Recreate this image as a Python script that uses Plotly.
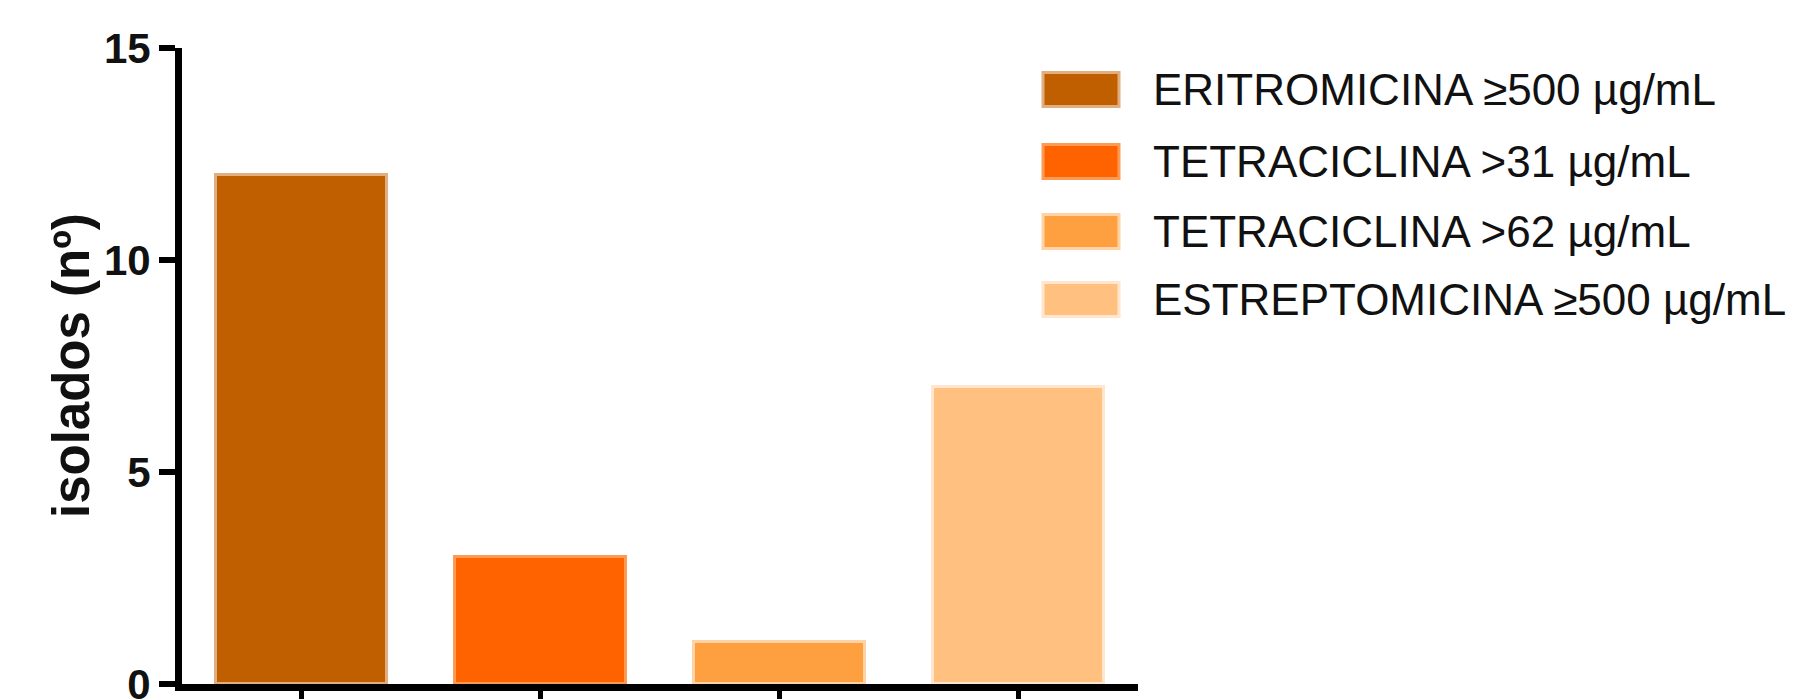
import plotly.graph_objects as go

categories = ["ERITROMICINA ≥500 µg/mL", "TETRACICLINA >31 µg/mL",
              "TETRACICLINA >62 µg/mL", "ESTREPTOMICINA ≥500 µg/mL"]
values = [12, 3, 1, 7]
colors = ["#C05F00", "#FF6300", "#FFA040", "#FFC080"]
edge_colors = ["#E2AE80", "#FF9A55", "#FFD3A6", "#FFE6CC"]
y_ticks = [0, 5, 10, 15]
y_title = "isolados (nº)"

W, H = 1793, 699
L, R, T, B = 182, 1138, 48, 684
pw, ph = R - L, B - T

def px_x(x):
    return (x - L) / pw

def px_y(y):
    return (B - y) / ph

FONT = "Liberation Sans, Arial, sans-serif"

fig = go.Figure()
for i, (cat, v, c, e) in enumerate(zip(categories, values, colors, edge_colors)):
    fig.add_trace(go.Bar(
        x=[i], y=[v], name=cat, width=0.716,
        marker=dict(color=c, line=dict(color=e, width=3)),
        showlegend=False,
    ))

shapes = []
annotations = []
row_centers = [89.5, 161.5, 231.5, 299.5]
for cat, c, e, yc in zip(categories, colors, edge_colors, row_centers):
    shapes.append(dict(type="rect", xref="paper", yref="paper",
                       x0=px_x(1043), x1=px_x(1119),
                       y0=px_y(yc + 17), y1=px_y(yc - 17),
                       fillcolor=c, line=dict(color=e, width=3)))
    annotations.append(dict(xref="paper", yref="paper", x=px_x(1151), y=px_y(yc),
                            text=cat, showarrow=False, xanchor="left", yanchor="middle",
                            font=dict(family=FONT, size=44, color="#111111")))

annotations.append(dict(xref="paper", yref="paper", x=px_x(71), y=0.5,
                        text="<b>" + y_title + "</b>", textangle=-90, showarrow=False,
                        xanchor="center", yanchor="middle",
                        font=dict(family=FONT, size=51, color="#111111")))

fig.update_layout(
    width=W, height=H,
    margin=dict(l=L, r=W - R, t=T, b=H - B, pad=0, autoexpand=False),
    paper_bgcolor="white", plot_bgcolor="white",
    shapes=shapes, annotations=annotations,
    bargap=0,
    xaxis=dict(range=[-0.5, 3.5], tickmode="array", tickvals=list(range(len(categories))),
               ticktext=["" for _ in categories], showgrid=False, zeroline=False,
               automargin=False,
               showline=True, linecolor="black", linewidth=7,
               ticks="outside", ticklen=16, tickwidth=5, tickcolor="black"),
    yaxis=dict(range=[0, 15], tickmode="array", tickvals=y_ticks,
               showgrid=False, zeroline=False, automargin=False,
               ticklabeloverflow="allow",
               showline=True, linecolor="black", linewidth=7,
               ticks="outside", ticklen=16, tickwidth=6, tickcolor="black",
               tickfont=dict(family=FONT, size=42, color="#111111", weight="bold")),
)

fig.write_html("out.html")
